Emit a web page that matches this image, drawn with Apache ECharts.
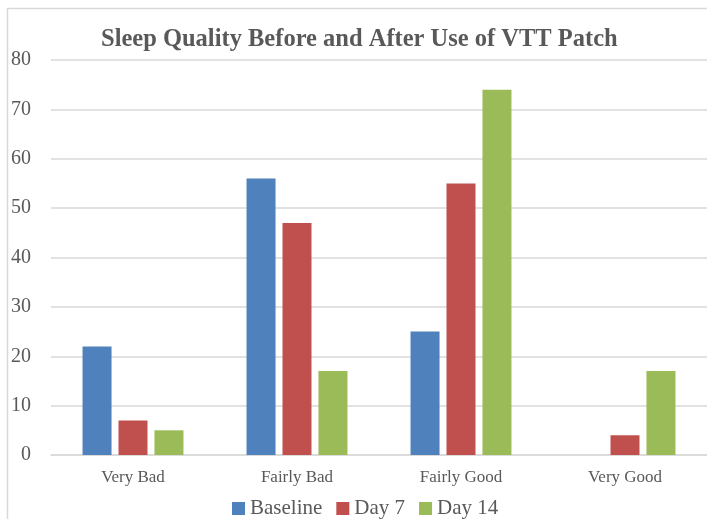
<!DOCTYPE html>
<html>
<head>
<meta charset="utf-8">
<script src="https://cdn.jsdelivr.net/npm/echarts@6/dist/echarts.min.js"></script>
<style>html,body{margin:0;padding:0;background:#fff;}#c{width:707px;height:519px;}</style>
</head>
<body>
<div id="c"></div>
<script>
const categories = ['Very Bad', 'Fairly Bad', 'Fairly Good', 'Very Good'];
const seriesNames = ['Baseline', 'Day 7', 'Day 14'];
const baseline = [22, 56, 25, 0];
const day7 = [7, 47, 55, 4];
const day14 = [5, 17, 74, 17];
const colors = ['#4F81BD', '#C0504D', '#9BBB59'];
const titleText = 'Sleep Quality Before and After Use of VTT Patch';

const font = 'Liberation Serif';
const chart = echarts.init(document.getElementById('c'), null, {renderer: 'canvas'});
const dataSets = [baseline, day7, day14];
chart.setOption({
  animation: false,
  color: colors,
  graphic: [{
    type: 'rect', silent: true, z: -10,
    shape: {x: 7.5, y: 8.5, width: 800, height: 600},
    style: {fill: 'none', stroke: '#d9d9d9', lineWidth: 1.5}
  }],
  title: {
    text: titleText, left: 101, top: 27, padding: 0,
    textStyle: {fontFamily: font, fontWeight: 'bold', fontSize: 24.5, color: '#595959'}
  },
  legend: {
    data: seriesNames, left: 232, top: 498, padding: 0,
    itemWidth: 13, itemHeight: 13, itemGap: 14, icon: 'rect',
    textStyle: {fontFamily: font, fontSize: 21, color: '#595959'}
  },
  grid: {left: 51, right: -4, top: 60, bottom: 64, containLabel: false},
  xAxis: {
    type: 'category', data: categories,
    axisLine: {show: true, lineStyle: {color: '#d9d9d9', width: 1.5}},
    axisTick: {show: false},
    axisLabel: {fontFamily: font, fontSize: 17, color: '#595959', margin: 14}
  },
  yAxis: {
    type: 'value', min: 0, max: 80, interval: 10,
    axisLine: {show: false}, axisTick: {show: false},
    splitLine: {lineStyle: {color: '#d9d9d9', width: 1.5}},
    axisLabel: {fontFamily: font, fontSize: 20, color: '#595959', margin: 20}
  },
  series: seriesNames.map((n, i) => ({
    name: n, type: 'bar', data: dataSets[i],
    barWidth: 29, barGap: '24%',
    itemStyle: {color: colors[i]}
  }))
});
</script>
</body>
</html>
